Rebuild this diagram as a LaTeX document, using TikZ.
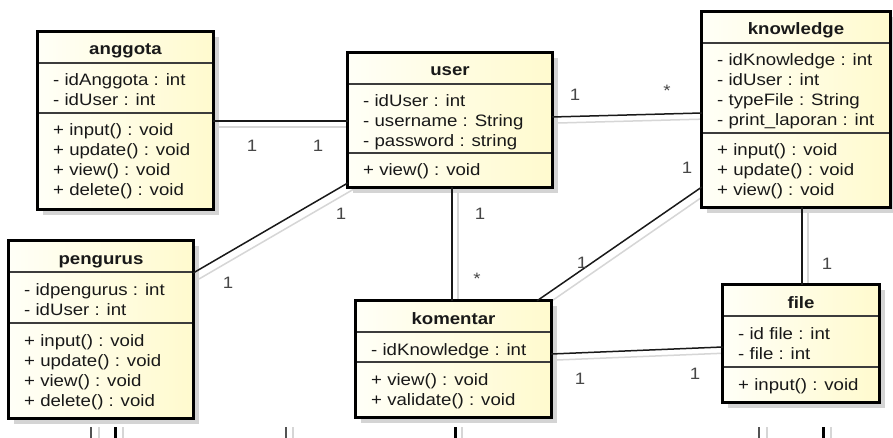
\documentclass[tikz,border=0pt]{standalone}
\usepackage{fontspec}
\setmainfont{Liberation Sans}[FakeStretch=1.13]
\usetikzlibrary{fit}

\definecolor{boxlight}{RGB}{255,255,247}
\definecolor{boxdark}{RGB}{255,250,206}
\definecolor{boxshadow}{RGB}{212,212,212}
\definecolor{ink}{RGB}{25,25,25}
\definecolor{linkshadow}{RGB}{214,214,214}

% one UML class: #1 name, #2 left, #3 top, #4 right, #5 bottom,
% #6 y of the operations rule, #7 title, #8 attributes, #9 operations
\newcommand\umlclass[9]{%
  \fill[boxshadow] (#2+5,#3+5) rectangle (#4+6,#5+6);
  \node[classbody, fit={(#2,#3) (#4,#5)}] (#1) {};
  \draw[sepline] (#2,#3+31) -- (#4,#3+31);
  \draw[sepline] (#2,#6) -- (#4,#6);
  \draw[classframe] (#1.north west) rectangle (#1.south east);
  \node[titletext] (#1-title) at ({(#2+#4)/2},#3+23) {#7};
  \foreach \s [count=\k] in {#8}
    \node[membertext] (#1-a\k) at ({#2+15},{#3+31+23+(\k-1)*20}) {\s};
  \foreach \s [count=\k] in {#9}
    \node[membertext] (#1-o\k) at ({#2+15},{#6+23+(\k-1)*20}) {\s};
}

\tikzset{
  classbody/.style={left color=boxlight, right color=boxdark, inner sep=0pt, draw=none},
  classframe/.style={draw=black, line width=3pt},
  sepline/.style={draw=ink!85, line width=1.1pt},
  titletext/.style={font=\fontsize{16.5}{20}\selectfont\bfseries, text=ink, anchor=base, inner sep=0pt},
  membertext/.style={font=\fontsize{16.5}{20}\selectfont, text=ink, anchor=base west, inner sep=0pt},
  link/.style={draw=ink, line width=1.5pt},
  linkshade/.style={draw=linkshadow, line width=1.5pt},
  mult/.style={font=\fontsize{16.5}{20}\selectfont, text=ink!80, anchor=base, inner sep=0pt},
}

\begin{document}
\begin{tikzpicture}[x=1pt, y=-1pt]
\useasboundingbox (0,0) rectangle (893,438);
\fill[white] (0,0) rectangle (893,438);

% soft copies of the associations, lying under the classes
\begin{scope}[transform canvas={shift={(6,6)}}]
  \coordinate (s1a) at (213,121); \coordinate (s1b) at (348,121);
  \coordinate (s2a) at (552,117); \coordinate (s2b) at (702,113);
  \coordinate (s3a) at (348,183); \coordinate (s3b) at (193,273);
  \coordinate (s4a) at (452,187); \coordinate (s4b) at (452,301);
  \coordinate (s5a) at (702,187); \coordinate (s5b) at (537,301);
  \coordinate (s6a) at (802,207); \coordinate (s6b) at (802,285);
  \coordinate (s7a) at (551,354); \coordinate (s7b) at (723,347);
  \foreach \n in {1,...,7} \draw[linkshade] (s\n a) -- (s\n b);
\end{scope}

% classes
\umlclass{anggota}{38}{32}{213}{209}{113}{anggota}
  {- idAnggota : int, - idUser : int}
  {+ input() : void, + update() : void, + view() : void, + delete() : void}
\umlclass{user}{348}{53}{552}{187}{153}{user}
  {- idUser : int, - username : String, - password : string}
  {+ view() : void}
\umlclass{knowledge}{702}{12}{890}{207}{133}{knowledge}
  {- idKnowledge : int, - idUser : int, - typeFile : String, - print\_laporan : int}
  {+ input() : void, + update() : void, + view() : void}
\umlclass{pengurus}{9}{241}{193}{418}{323}{pengurus}
  {- idpengurus : int, - idUser : int}
  {+ input() : void, + update() : void, + view() : void, + delete() : void}
\umlclass{komentar}{356}{301}{551}{417}{362}{komentar}
  {- idKnowledge : int}
  {+ view() : void, + validate() : void}
\umlclass{file}{723}{285}{879}{402}{367}{file}
  {- id file : int, - file : int}
  {+ input() : void}

% associations
\draw[link] (anggota.east |- 0,121) -- (user.west |- 0,121);
\draw[link] (user.east |- 0,117) -- (knowledge.west |- 0,113);
\draw[link] (user.west |- 0,183) -- (pengurus.east |- 0,273);
\draw[link] (user.south -| 452,0) -- (komentar.north -| 452,0);
\draw[link] (knowledge.west |- 0,187) -- (komentar.north -| 537,0);
\draw[link] (knowledge.south -| 802,0) -- (file.north -| 802,0);
\draw[link] (komentar.east |- 0,354) -- (file.west |- 0,347);

% multiplicities
\node[mult] (m1) at (252,152) {1};
\node[mult] (m2) at (318,152) {1};
\node[mult] (m3) at (575,101) {1};
\node[mult] (m4) at (667,97) {*};
\node[mult] (m5) at (341,219) {1};
\node[mult] (m6) at (228,288) {1};
\node[mult] (m7) at (480,219) {1};
\node[mult] (m8) at (477,284) {*};
\node[mult] (m9) at (687,174) {1};
\node[mult] (m10) at (582,268) {1};
\node[mult] (m11) at (827,269) {1};
\node[mult] (m12) at (580,384) {1};
\node[mult] (m13) at (695,379) {1};

% line ends running in from the lower edge
\foreach \x/\w/\c in {91/1.6/ink!75, 99/1.6/linkshadow, 115/3/black, 123/1.6/linkshadow,
                      286/1.6/ink!75, 293/1.6/linkshadow, 455/3/black, 462/1.6/linkshadow,
                      759/1.6/ink!75, 767/1.6/linkshadow, 823/3/black, 831/1.6/linkshadow}
  \draw[line width=\w pt, \c] (\x,427) -- (\x,438);
\end{tikzpicture}
\end{document}
